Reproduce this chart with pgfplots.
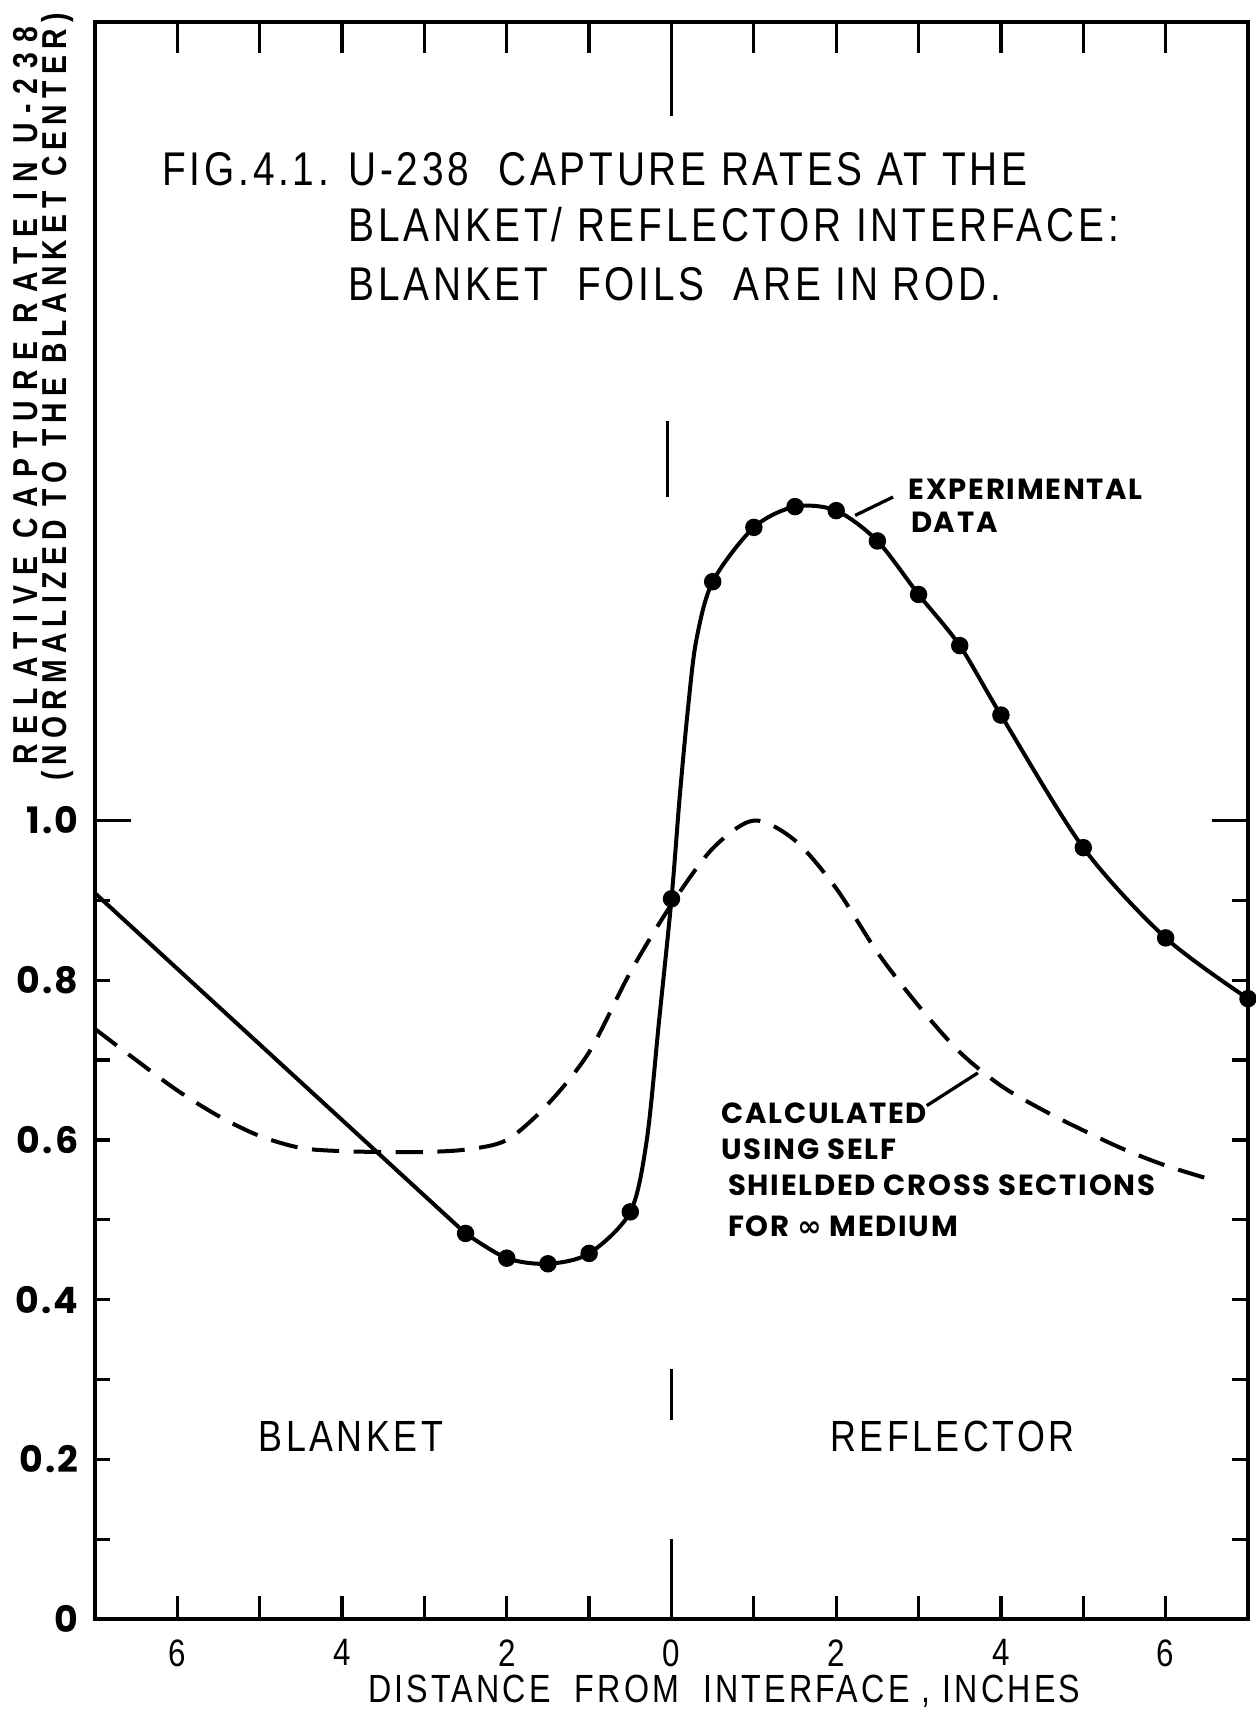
\documentclass[border=0pt]{standalone}
\usepackage{fontspec}
\usepackage{pgfplots}
\pgfplotsset{compat=1.18}
\setmainfont{Liberation Sans}
\newfontfamily\ttl[FakeStretch=0.82,LetterSpace=8]{Liberation Sans}
\newfontfamily\ylA[FakeStretch=0.82,LetterSpace=29]{Liberation Sans}
\newfontfamily\ylB[FakeStretch=0.82,LetterSpace=18]{Liberation Sans}
\newfontfamily\geo[LetterSpace=6]{Poppins}
\newfontfamily\sym{DejaVu Sans}
\begin{document}
\begin{tikzpicture}
\begin{axis}[name=ax, scale only axis, width=316.8pt, height=438.9pt,
  xmin=-7, xmax=7, ymin=0, ymax=2,
  axis line style={line width=1pt},
  xtick={-6,-4,-2,0,2,4,6}, xticklabels={6,4,2,0,2,4,6},
  ytick={0,0.2,0.4,0.6,0.8,1.0}, yticklabels={0,0.2,0.4,0.6,0.8,1.0},
  tick style={draw=none},
  xticklabel style={font=\ttl\fontsize{10.5}{10.5}\selectfont, yshift=-2pt},
  yticklabel style={font=\geo\bfseries\fontsize{10}{10}\selectfont, xshift=-1pt},
  clip=false]
  % ticks drawn inward
  \pgfplotsinvokeforeach{-6,-5,-4,-3,-2,-1,1,2,3,4,5,6}{
    \draw[line width=0.9pt] (axis cs:#1,0) -- ++(0pt,6.5pt);
    \draw[line width=0.9pt] (axis cs:#1,2) -- ++(0pt,-8.5pt);
  }
  \draw[line width=0.9pt] (axis cs:0,2) -- ++(0pt,-26pt);
  \pgfplotsinvokeforeach{0.1,0.2,0.3,0.4,0.5,0.6,0.7,0.8,0.9}{
    \draw[line width=0.9pt] (axis cs:-7,#1) -- ++(4pt,0pt);
    \draw[line width=0.9pt] (axis cs:7,#1) -- ++(-4.5pt,0pt);
  }
  \draw[line width=0.9pt] (axis cs:-7,1) -- ++(10pt,0pt);
  \draw[line width=0.9pt] (axis cs:7,1) -- ++(-10pt,0pt);
  % interface marks
  \draw[line width=1pt] (axis cs:-0.05,1.405) -- (axis cs:-0.05,1.50);
  \draw[line width=1pt] (axis cs:0,0.249) -- (axis cs:0,0.313);
  \draw[line width=1pt] (axis cs:0,0) -- (axis cs:0,0.10);

  % experimental curve
  \addplot[line width=1.1pt, sharp plot] coordinates {(-7,0.909) (-2.5,0.483)};
  \addplot[line width=1.1pt, smooth, tension=0.5] coordinates {
    (-2.5,0.483) (-2.0,0.452) (-1.5,0.445) (-1.0,0.458) (-0.5,0.510)
    (-0.3,0.60) (-0.15,0.75) (0,0.902) (0.1,1.03) (0.2,1.14) (0.3,1.225)
    (0.5,1.299) (1.0,1.367) (1.5,1.393) (2.0,1.388) (2.5,1.350) (3.0,1.283)
    (3.5,1.219) (4.0,1.132) (5.0,0.966) (6.0,0.853) (7.0,0.777)};
  \addplot[only marks, mark=*, mark size=2.2pt] coordinates {
    (-2.5,0.483) (-2.0,0.452) (-1.5,0.445) (-1.0,0.458) (-0.5,0.510)
    (0,0.902) (0.5,1.299) (1.0,1.367) (1.5,1.393) (2.0,1.388) (2.5,1.350)
    (3.0,1.283) (3.5,1.219) (4.0,1.132) (5.0,0.966) (6.0,0.853) (7.0,0.777)};
  % calculated curve
  \addplot[line width=1.1pt, smooth, dash pattern=on 7.5pt off 4pt] coordinates {
    (-7,0.739) (-6.5,0.700) (-6,0.662) (-5.5,0.630) (-5,0.605) (-4.5,0.590)
    (-4,0.586) (-3.5,0.585) (-3,0.585) (-2.5,0.588) (-2,0.600) (-1.5,0.645)
    (-1,0.710) (-0.5,0.810) (0,0.895) (0.5,0.965) (1.0,1.000) (1.5,0.975)
    (2.0,0.915) (2.5,0.835) (3.0,0.768) (3.5,0.710) (4.0,0.668) (4.5,0.638)
    (5.0,0.612) (5.5,0.588) (6.0,0.568) (6.5,0.552)};

  % title
  \node[anchor=west, font=\ttl\fontsize{13}{13}\selectfont, inner sep=0pt] at (axis cs:-6.19,1.816) {FIG.4.1. U-238 \ CAPTURE RATES AT THE};
  \node[anchor=west, font=\ttl\fontsize{13}{13}\selectfont, inner sep=0pt] at (axis cs:-3.93,1.746) {BLANKET/ REFLECTOR INTERFACE:};
  \node[anchor=west, font=\ttl\fontsize{13}{13}\selectfont, inner sep=0pt] at (axis cs:-3.93,1.671) {BLANKET \ FOILS \ ARE IN ROD.};
  % annotations
  \node[anchor=west, font=\geo\bfseries\fontsize{8}{8}\selectfont, inner sep=0pt] at (axis cs:2.87,1.415) {EXPERIMENTAL};
  \node[anchor=west, font=\geo\bfseries\fontsize{8}{8}\selectfont, inner sep=0pt] at (axis cs:2.90,1.374) {DATA};
  \draw[line width=0.9pt] (axis cs:2.23,1.382) -- (axis cs:2.69,1.405);
  \node[anchor=west, font=\geo\bfseries\fontsize{8}{8}\selectfont, inner sep=0pt] at (axis cs:0.60,0.633) {CALCULATED};
  \node[anchor=west, font=\geo\bfseries\fontsize{8}{8}\selectfont, inner sep=0pt] at (axis cs:0.60,0.588) {USING SELF};
  \node[anchor=west, font=\geo\bfseries\fontsize{8}{8}\selectfont, inner sep=0pt] at (axis cs:0.68,0.543) {SHIELDED CROSS SECTIONS};
  \node[anchor=west, font=\geo\bfseries\fontsize{8}{8}\selectfont, inner sep=0pt] at (axis cs:0.68,0.4925) {FOR {\sym\bfseries ∞} MEDIUM};
  \draw[line width=0.9pt] (axis cs:3.10,0.643) -- (axis cs:3.72,0.684);
  \node[anchor=west, font=\ttl\fontsize{12}{12}\selectfont, inner sep=0pt] at (axis cs:-5.02,0.229) {BLANKET};
  \node[anchor=west, font=\ttl\fontsize{12}{12}\selectfont, inner sep=0pt] at (axis cs:1.92,0.229) {REFLECTOR};
  % axis labels
  \node[rotate=90, anchor=base, font=\ylA\bfseries\fontsize{9.5}{9.5}\selectfont, inner sep=0pt] at (axis cs:-7.70,1.532) {RELATIVE CAPTURE RATE IN U-238};
  \node[rotate=90, anchor=base, font=\ylB\bfseries\fontsize{9.5}{9.5}\selectfont, inner sep=0pt] at (axis cs:-7.34,1.530) {(NORMALIZED TO THE BLANKET CENTER)};
  \node[font=\ttl\fontsize{10.8}{10.8}\selectfont, inner sep=0pt] at (axis cs:0.64,-0.09) {DISTANCE \ FROM \ INTERFACE , INCHES};
\end{axis}
\pgfresetboundingbox
\path[use as bounding box] ([xshift=-26.1pt,yshift=-25.5pt]ax.south west) rectangle ([xshift=2.1pt,yshift=6pt]ax.north east);
\end{tikzpicture}
\end{document}
